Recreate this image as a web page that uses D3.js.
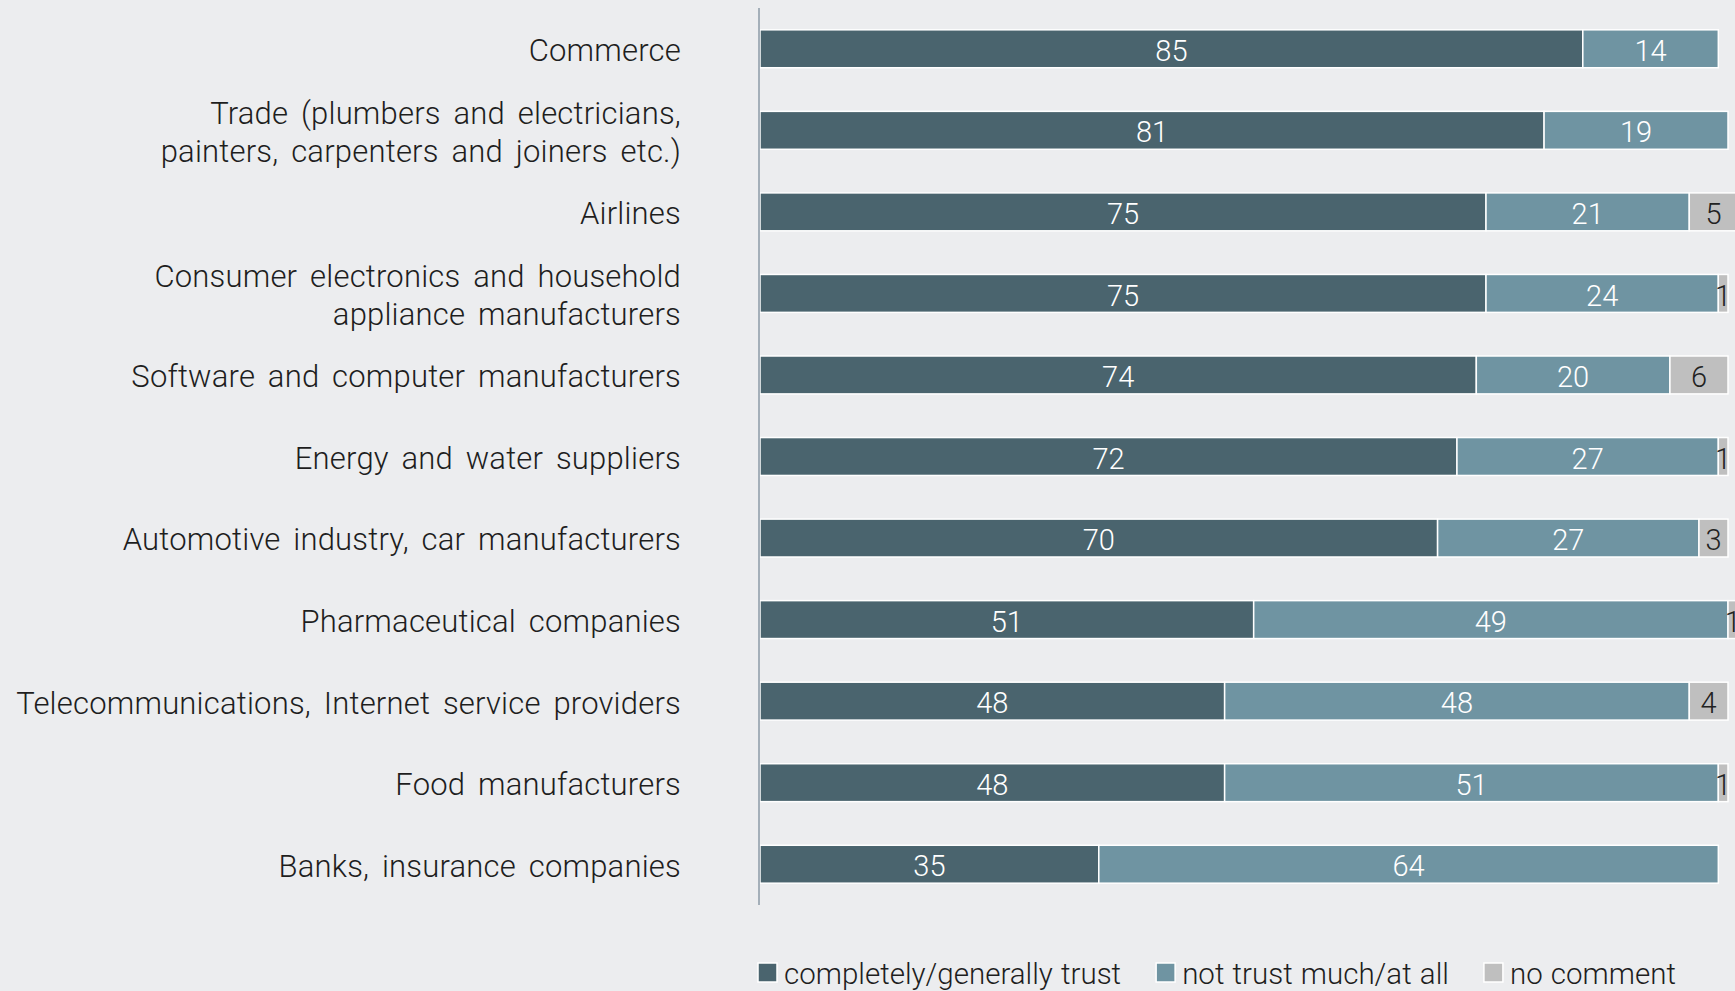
<!DOCTYPE html>
<html>
<head>
<meta charset="utf-8">
<script src="https://cdn.jsdelivr.net/npm/d3@7/dist/d3.min.js"></script>
<style>
  html, body { margin: 0; padding: 0; background: #ecedef; }
  svg { display: block; }
  text { font-family: Roboto, "Open Sans", "Liberation Sans", sans-serif; font-weight: 300; }
</style>
</head>
<body>
<svg id="chart" width="1735" height="991"></svg>
<script>
// Trust in industries (%), one row per industry
const categories = [
  ["Commerce"],
  ["Trade (plumbers and electricians,", "painters, carpenters and joiners etc.)"],
  ["Airlines"],
  ["Consumer electronics and household", "appliance manufacturers"],
  ["Software and computer manufacturers"],
  ["Energy and water suppliers"],
  ["Automotive industry, car manufacturers"],
  ["Pharmaceutical companies"],
  ["Telecommunications, Internet service providers"],
  ["Food manufacturers"],
  ["Banks, insurance companies"]
];
const trust     = [85, 81, 75, 75, 74, 72, 70, 51, 48, 48, 35];
const notTrust  = [14, 19, 21, 24, 20, 27, 27, 49, 48, 51, 64];
const noComment = [ 0,  0,  5,  1,  6,  1,  3,  1,  4,  1,  0];

const seriesNames = ["completely/generally trust", "not trust much/at all", "no comment"];
const seriesColors = ["#4a646e", "#6f94a2", "#bfbfbf"];
const labelColors = ["#ffffff", "#ffffff", "#222222"];

const svg = d3.select("#chart");
const plotLeft = 760, plotRight = 1728, plotTop = 8, plotBottom = 905;

const keys = categories.map((c, i) => i);
const x = d3.scaleLinear().domain([0, 100]).range([plotLeft, plotRight]);
const y = d3.scaleBand().domain(keys).range([plotTop, plotBottom])
  .paddingInner(0.535).paddingOuter(0.2675);

const rows = keys.map(i => ({ i, vals: [trust[i], notTrust[i], noComment[i]] }));

// stacked segments
rows.forEach(r => {
  let acc = 0;
  r.segs = r.vals.map((v, s) => {
    const seg = { s, v, x0: acc, x1: acc + v };
    acc += v;
    return seg;
  }).filter(d => d.v > 0);
});

const rowG = svg.append("g").selectAll("g").data(rows).join("g")
  .attr("transform", r => `translate(0,${y(r.i)})`);

rowG.selectAll("rect").data(r => r.segs).join("rect")
  .attr("x", d => x(d.x0))
  .attr("width", d => x(d.x1) - x(d.x0))
  .attr("y", 0)
  .attr("height", y.bandwidth())
  .attr("fill", d => seriesColors[d.s])
  .attr("stroke", "#ffffff")
  .attr("stroke-width", 1.5);

rowG.selectAll("text.val").data(r => r.segs).join("text")
  .attr("class", "val")
  .attr("x", d => (x(d.x0) + x(d.x1)) / 2)
  .attr("y", y.bandwidth() / 2)
  .attr("dy", "0.42em")
  .attr("text-anchor", "middle")
  .attr("font-size", 29)
  .attr("fill", d => labelColors[d.s])
  .text(d => d.v);

// vertical baseline
svg.append("line")
  .attr("x1", plotLeft - 1).attr("x2", plotLeft - 1)
  .attr("y1", plotTop).attr("y2", plotBottom)
  .attr("stroke", "#a4afb9").attr("stroke-width", 2);

// category labels
const lineH = 38;
const catG = svg.append("g").selectAll("text").data(rows).join("text")
  .attr("text-anchor", "end")
  .attr("font-size", 31)
  .attr("letter-spacing", 0.2)
  .attr("word-spacing", 5)
  .attr("fill", "#1e1e1e");
catG.each(function(r) {
  const lines = categories[r.i];
  const cy = y(r.i) + y.bandwidth() / 2;
  const t = d3.select(this);
  lines.forEach((ln, k) => {
    t.append("tspan")
      .attr("x", 681)
      .attr("y", cy + (k - (lines.length - 1) / 2) * lineH)
      .attr("dy", "0.4em")
      .text(ln);
  });
});

// legend
const legend = svg.append("g").attr("transform", "translate(758,963)");
let lx = 0;
seriesNames.forEach((name, s) => {
  const g = legend.append("g").attr("transform", `translate(${lx},0)`);
  g.append("rect").attr("x", 0).attr("y", 0).attr("width", 19).attr("height", 19)
    .attr("fill", seriesColors[s]).attr("stroke", "#ffffff").attr("stroke-width", 1.5);
  const t = g.append("text").attr("x", 26).attr("y", 10).attr("dy", "0.38em")
    .attr("font-size", 29.5).attr("word-spacing", 1).attr("fill", "#1e1e1e").text(name);
  lx += 26 + t.node().getComputedTextLength() + 35;
});
</script>
</body>
</html>
